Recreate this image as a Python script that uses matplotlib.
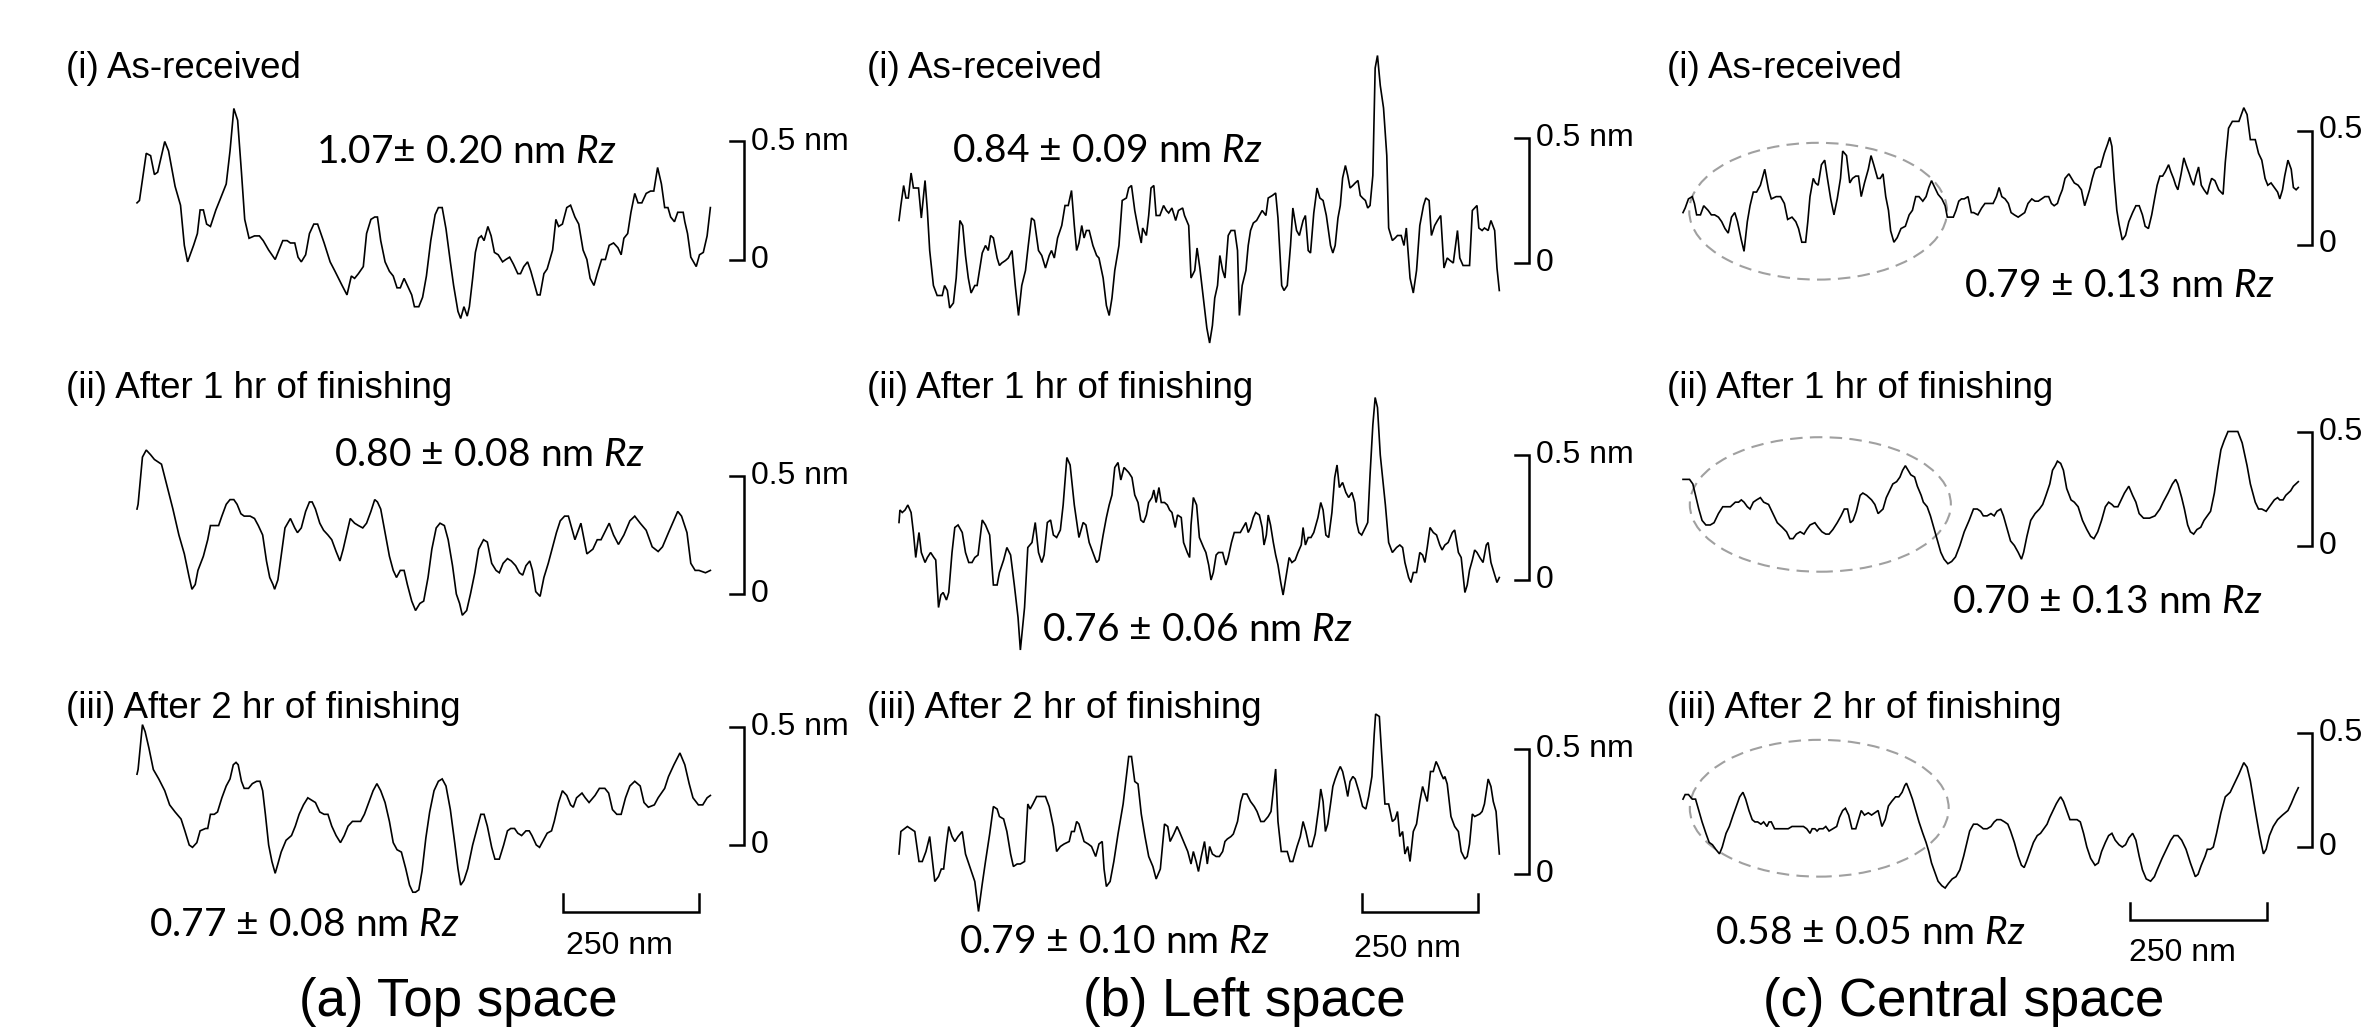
import matplotlib
matplotlib.use("Agg")
import matplotlib.pyplot as plt
from matplotlib.patches import Ellipse

# ---------------- data: AFM line profiles (position nm, height nm) ----------------
top_i_x = [0, 4.5, 17, 25, 32, 38, 51, 58, 70, 80,
           87, 93, 104, 111, 116, 122, 128, 135, 145, 152,
           164, 171, 178, 185, 192, 198, 206, 216, 225, 232,
           242, 254, 261, 268, 276, 282, 290, 296, 302, 310,
           317, 325, 332, 344, 355, 364, 377, 386, 394, 400,
           407, 416, 422, 430, 437, 442, 448, 456, 464, 471,
           478, 484, 491, 497, 505, 510, 518, 525, 532, 540,
           548, 554, 561, 568, 576, 582, 590, 595, 601, 607,
           611, 617, 622, 628, 633, 638, 645, 651, 657, 664,
           672, 678, 685, 692, 700, 705, 711, 718, 724, 730,
           736, 741, 748, 754, 764, 770, 775, 782, 790, 797,
           805, 812, 820, 827, 833, 840, 846, 854, 861, 868,
           876, 884, 890, 895, 902, 908, 915, 921, 928, 936,
           944, 950, 957, 964, 970, 976, 981, 988, 994, 1004,
           1007, 1012, 1018, 1028, 1034, 1041, 1048, 1054]
top_i_h = [.24, .25, .45, .44, .36, .37, .50, .46, .31, .23,
           .06, -.01, .06, .11, .21, .21, .15, .14, .21, .25,
           .32, .46, .64, .59, .37, .17, .09, .10, .10, .08,
           .04, 0, .04, .08, .08, .07, .07, .01, -.01, .02,
           .11, .15, .15, .07, -.01, -.05, -.11, -.15, -.07, -.08,
           -.06, -.03, .11, .17, .18, .18, .08, -.01, -.05, -.07,
           -.12, -.12, -.08, -.11, -.15, -.20, -.20, -.16, -.07, .08,
           .19, .22, .22, .13, -.01, -.11, -.22, -.25, -.20, -.24,
           -.20, -.08, .03, .09, .10, .08, .14, .10, .03, .02,
           -.01, 0, .01, -.02, -.06, -.06, -.03, -.01, -.05, -.10,
           -.15, -.15, -.06, -.04, .04, .17, .14, .15, .22, .23,
           .18, .15, .04, 0, -.08, -.11, -.06, 0, 0, .06,
           .07, .05, .02, .09, .11, .20, .28, .24, .24, .28,
           .29, .29, .39, .32, .22, .22, .18, .16, .20, .20,
           .16, .11, .01, -.03, .02, .03, .10, .22]

top_ii_x = [0, 2, 10, 17, 25, 32, 45, 55, 66, 77,
            87, 96, 101, 107, 112, 122, 130, 135, 141, 150,
            156, 164, 171, 178, 184, 191, 197, 208, 216, 223,
            231, 238, 244, 250, 253, 259, 265, 272, 282, 290,
            295, 302, 310, 317, 322, 328, 336, 343, 351, 358,
            366, 373, 379, 385, 392, 400, 407, 415, 422, 430,
            437, 442, 448, 456, 464, 471, 477, 484, 491, 497,
            505, 512, 520, 527, 535, 542, 550, 557, 565, 572,
            580, 587, 593, 598, 606, 613, 621, 628, 637, 644,
            652, 660, 666, 673, 681, 688, 696, 703, 709, 715,
            722, 727, 733, 741, 748, 756, 763, 771, 778, 786,
            793, 805, 816, 827, 838, 846, 853, 868, 876, 885,
            895, 906, 915, 925, 936, 947, 958, 966, 977, 994,
            1001, 1011, 1018, 1026, 1033, 1045, 1054]
top_ii_h = [.36, .38, .58, .61, .59, .57, .55, .46, .36, .25,
            .17, .07, .02, .04, .10, .16, .23, .29, .29, .29,
            .33, .38, .40, .40, .38, .34, .33, .33, .32, .29,
            .25, .14, .07, .04, .02, .06, .16, .28, .32, .28,
            .26, .28, .35, .39, .39, .36, .30, .27, .25, .23,
            .18, .14, .19, .25, .32, .30, .29, .28, .30, .35,
            .40, .39, .36, .26, .16, .10, .07, .10, .10, .04,
            -.03, -.07, -.04, -.03, .07, .19, .28, .30, .29, .23,
            .12, 0, -.04, -.09, -.07, 0, .09, .19, .23, .22,
            .13, .10, .09, .13, .15, .14, .12, .09, .08, .12,
            .14, .10, .01, -.01, .07, .13, .19, .26, .31, .33,
            .33, .23, .30, .17, .19, .23, .23, .30, .25, .21,
            .25, .31, .33, .30, .27, .20, .18, .20, .26, .35,
            .33, .26, .13, .10, .10, .09, .10]

top_iii_x = [0, 2, 10, 15, 22, 30, 40, 51, 60, 70,
             81, 88, 96, 102, 110, 116, 126, 130, 135, 142,
             148, 156, 164, 171, 177, 182, 186, 192, 197, 205,
             212, 220, 226, 231, 236, 242, 248, 254, 259, 265,
             274, 284, 291, 298, 306, 314, 321, 328, 336, 344,
             351, 358, 366, 374, 381, 388, 396, 404, 411, 418,
             426, 434, 441, 448, 456, 464, 471, 478, 486, 494,
             501, 507, 512, 518, 524, 531, 538, 546, 554, 561,
             568, 576, 584, 590, 595, 601, 608, 617, 625, 632,
             638, 644, 652, 658, 666, 674, 681, 687, 694, 700,
             707, 715, 721, 726, 734, 740, 747, 754, 762, 767,
             775, 782, 790, 797, 802, 808, 818, 824, 831, 842,
             850, 860, 867, 874, 882, 890, 898, 906, 915, 925,
             932, 940, 951, 958, 970, 977, 987, 998, 1007, 1015,
             1022, 1032, 1040, 1048, 1054]
top_iii_h = [.30, .32, .51, .48, .41, .32, .28, .23, .17, .14,
             .11, .06, 0, -.01, .01, .06, .07, .07, .13, .13,
             .14, .20, .25, .28, .34, .35, .34, .27, .24, .24,
             .26, .27, .27, .23, .13, 0, -.07, -.12, -.08, -.03,
             .02, .04, .08, .13, .17, .20, .19, .18, .14, .13,
             .13, .08, .04, .01, .04, .08, .10, .10, .10, .13,
             .18, .23, .26, .23, .18, .10, .01, -.02, -.03, -.10,
             -.17, -.20, -.20, -.19, -.11, .03, .14, .23, .27, .28,
             .25, .15, .01, -.10, -.17, -.15, -.10, 0, .07, .13,
             .13, .08, -.01, -.06, -.06, 0, .06, .07, .07, .05,
             .04, .06, .06, .04, 0, -.01, .02, .05, .06, .10,
             .18, .23, .21, .17, .16, .20, .22, .20, .18, .21,
             .24, .24, .22, .15, .13, .13, .20, .25, .27, .25,
             .18, .16, .17, .20, .24, .29, .34, .39, .34, .26,
             .20, .17, .17, .20, .21]

left_i_x = [0, 4, 10, 15, 20, 26, 31, 36, 42, 48,
            56, 61, 66, 74, 82, 88, 93, 98, 104, 109,
            117, 123, 131, 137, 143, 149, 155, 163, 168, 179,
            186, 192, 197, 203, 211, 216, 221, 229, 235, 243,
            250, 257, 264, 272, 278, 285, 291, 300, 307, 315,
            323, 328, 334, 341, 350, 357, 364, 371, 377, 382,
            387, 393, 398, 403, 409, 417, 425, 430, 439, 446,
            452, 458, 464, 473, 480, 489, 494, 500, 507, 515,
            521, 524, 532, 537, 542, 548, 553, 561, 569, 575,
            580, 587, 595, 601, 610, 614, 623, 628, 636, 641,
            647, 655, 662, 668, 674, 679, 685, 690, 696, 701,
            708, 714, 722, 728, 732, 738, 746, 751, 756, 762,
            769, 775, 781, 789, 794, 803, 810, 815, 823, 828,
            835, 842, 847, 855, 861, 869, 874, 880, 885, 892,
            899, 905, 912, 919, 928, 933, 938, 944, 949, 954,
            960, 965, 970, 976, 981, 987, 992, 997, 1003, 1008,
            1013, 1019, 1024, 1029, 1035, 1042, 1049, 1053, 1061, 1067,
            1072, 1080, 1086, 1091, 1099, 1106, 1113, 1120, 1128, 1133,
            1140, 1145, 1152, 1158, 1165, 1172, 1179, 1185, 1192, 1201,
            1206, 1213, 1222, 1227, 1233, 1238, 1243, 1247, 1254, 1259,
            1267, 1273, 1281, 1286, 1291]
left_i_h = [.17, .23, .31, .26, .26, .36, .30, .30, .30, .18,
            .33, .21, .05, -.09, -.13, -.13, -.13, -.09, -.11, -.18,
            -.16, -.06, .17, .15, .03, -.06, -.12, -.09, -.09, .04,
            .07, .05, .11, .10, .02, -.01, 0, .01, .02, .05,
            -.09, -.21, -.09, -.03, .07, .18, .17, .05, .03, -.02,
            .03, .05, .02, .10, .15, .23, .23, .29, .15, .05,
            .08, .15, .10, .13, .13, .07, .03, .02, -.06, -.17,
            -.21, -.14, -.03, .07, .25, .26, .30, .31, .21, .13,
            .08, .14, .11, .19, .30, .31, .19, .19, .23, .21,
            .20, .22, .17, .21, .22, .19, .15, -.06, -.03, .06,
            -.02, -.15, -.26, -.32, -.25, -.14, -.09, .03, -.03, -.06,
            .11, .13, .13, .05, -.21, -.09, -.03, .07, .13, .16,
            .17, .19, .21, .19, .26, .27, .28, .18, -.09, -.11,
            -.09, .07, .22, .13, .11, .17, .19, .05, .04, .20,
            .30, .26, .25, .19, .07, .04, .07, .18, .23, .34,
            .39, .35, .30, .31, .32, .33, .27, .26, .25, .22,
            .23, .35, .78, .83, .71, .62, .43, .14, .09, .10,
            .11, .11, .07, .14, -.06, -.12, -.03, .15, .23, .26,
            .25, .11, .15, .17, .19, -.02, .02, .01, 0, .13,
            .02, -.01, -.01, -.01, .21, .22, .23, .14, .13, .14,
            .13, .17, .13, -.02, -.11]

left_ii_x = [0, 2, 7, 13, 19, 26, 31, 36, 43, 48,
             56, 61, 68, 75, 79, 85, 90, 95, 102, 107,
             114, 120, 127, 136, 143, 150, 157, 163, 170, 179,
             186, 195, 203, 211, 216, 225, 232, 240, 248, 256,
             261, 270, 277, 286, 293, 300, 307, 312, 319, 326,
             332, 339, 347, 353, 361, 368, 377, 387, 396, 402,
             409, 417, 425, 430, 439, 446, 452, 458, 464, 471,
             477, 484, 494, 501, 507, 514, 520, 526, 532, 537,
             544, 548, 553, 559, 564, 571, 577, 582, 587, 594,
             599, 607, 612, 620, 625, 628, 633, 640, 646, 655,
             660, 666, 671, 676, 682, 687, 696, 703, 708, 715,
             721, 728, 734, 740, 746, 751, 756, 762, 767, 775,
             781, 785, 790, 794, 799, 805, 810, 815, 821, 826,
             832, 839, 845, 852, 858, 865, 869, 874, 880, 886,
             892, 901, 907, 912, 918, 924, 931, 937, 942, 947,
             954, 961, 967, 974, 980, 984, 989, 995, 1003, 1008,
             1013, 1019, 1024, 1029, 1035, 1040, 1046, 1053, 1061, 1070,
             1077, 1083, 1088, 1096, 1101, 1106, 1113, 1120, 1126, 1131,
             1136, 1142, 1149, 1156, 1163, 1168, 1174, 1181, 1190, 1195,
             1203, 1209, 1217, 1222, 1227, 1233, 1238, 1243, 1249, 1256,
             1263, 1267, 1273, 1281, 1286, 1291]
left_ii_h = [.23, .28, .27, .28, .30, .27, .19, .09, .19, .11,
             .07, .09, .11, .09, .08, -.11, -.06, -.05, -.08, -.05,
             .11, .21, .22, .19, .11, .07, .07, .09, .10, .24,
             .22, .18, -.02, -.02, .03, .08, .13, .10, -.02, -.15,
             -.28, -.11, .13, .15, .23, .11, .07, .10, .23, .24,
             .18, .17, .20, .30, .49, .46, .30, .17, .23, .22,
             .15, .11, .07, .08, .18, .25, .30, .34, .45, .47,
             .40, .45, .43, .41, .34, .31, .24, .23, .26, .31,
             .33, .36, .31, .37, .31, .31, .30, .28, .27, .21,
             .26, .25, .15, .11, .09, .22, .33, .30, .17, .13,
             .11, .06, 0, .03, .10, .11, .11, .06, .09, .15,
             .19, .19, .19, .21, .23, .19, .21, .25, .27, .26,
             .21, .14, .18, .26, .22, .15, .10, .06, -.01, -.06,
             .01, .09, .07, .08, .11, .14, .21, .14, .17, .17,
             .19, .25, .31, .28, .18, .17, .27, .41, .46, .37,
             .39, .35, .33, .35, .31, .23, .19, .18, .21, .23,
             .42, .62, .73, .69, .50, .41, .30, .15, .11, .13,
             .14, .13, .07, .01, -.01, .03, .03, .11, .10, .07,
             .13, .21, .19, .18, .14, .12, .14, .15, .19, .20,
             .11, .09, -.05, -.02, .04, .08, .12, .11, .09, .07,
             .14, .15, .07, .02, -.01, .01]

left_iii_x = [0, 4, 11, 18, 26, 34, 43, 50, 58, 66,
              72, 77, 85, 91, 96, 102, 107, 114, 120, 127,
              136, 143, 152, 163, 171, 179, 186, 195, 203, 211,
              216, 225, 232, 240, 246, 254, 261, 270, 277, 282,
              288, 296, 300, 307, 315, 323, 332, 339, 347, 355,
              366, 371, 377, 382, 387, 398, 407, 414, 423, 430,
              437, 441, 446, 454, 462, 471, 482, 489, 494, 500,
              507, 514, 521, 529, 537, 546, 553, 562, 571, 578,
              583, 591, 598, 603, 612, 621, 628, 633, 639, 644,
              650, 657, 663, 668, 674, 682, 689, 696, 701, 706,
              714, 719, 728, 735, 740, 748, 756, 764, 770, 778,
              785, 794, 800, 807, 810, 815, 822, 828, 835, 841,
              847, 856, 863, 869, 875, 882, 888, 895, 903, 907,
              912, 917, 922, 928, 933, 938, 944, 949, 954, 960,
              965, 970, 976, 981, 989, 997, 1004, 1010, 1017, 1022,
              1025, 1033, 1038, 1045, 1053, 1061, 1067, 1072, 1077, 1083,
              1088, 1094, 1099, 1106, 1113, 1120, 1126, 1131, 1136, 1143,
              1149, 1155, 1160, 1166, 1171, 1174, 1179, 1187, 1195, 1203,
              1209, 1217, 1222, 1227, 1233, 1238, 1249, 1254, 1259, 1267,
              1273, 1278, 1284, 1291]
left_iii_h = [.08, .17, .18, .19, .18, .17, .05, .05, .09, .15,
              .05, -.03, -.01, .02, .02, .12, .19, .15, .13, .15,
              .17, .08, .03, -.03, -.15, -.04, .05, .16, .27, .26,
              .23, .22, .17, .08, .03, .04, .04, .05, .28, .26,
              .28, .31, .31, .31, .31, .27, .19, .09, .11, .12,
              .13, .17, .17, .21, .20, .13, .12, .11, .07, .12,
              .13, .02, -.05, -.03, .05, .16, .28, .39, .47, .47,
              .37, .36, .24, .15, .07, .03, -.02, .02, .20, .19,
              .13, .16, .19, .17, .13, .09, .04, .09, .05, .01,
              .07, .13, .04, .11, .08, .07, .07, .09, .13, .14,
              .15, .16, .21, .29, .32, .32, .29, .27, .25, .21,
              .21, .23, .25, .37, .42, .21, .09, .09, .09, .05,
              .05, .11, .15, .21, .17, .11, .11, .16, .27, .34,
              .29, .17, .20, .28, .35, .38, .41, .43, .41, .36,
              .31, .37, .39, .38, .33, .27, .26, .31, .39, .56,
              .64, .63, .48, .28, .28, .21, .22, .25, .15, .17,
              .08, .11, .05, .17, .20, .29, .35, .32, .29, .41,
              .41, .45, .43, .40, .38, .39, .36, .23, .19, .17,
              .09, .06, .07, .12, .24, .23, .24, .25, .28, .38,
              .35, .29, .25, .08]

central_i_x = [0, 4, 10, 17, 21, 25, 32, 38, 46, 52,
               58, 65, 71, 77, 83, 89, 95, 100, 107, 112,
               118, 123, 129, 135, 142, 150, 157, 162, 171, 179,
               186, 192, 200, 207, 212, 218, 225, 229, 233, 239,
               243, 248, 254, 260, 265, 271, 277, 283, 289, 293,
               300, 306, 311, 317, 322, 327, 333, 340, 345, 350,
               357, 362, 367, 372, 377, 381, 387, 393, 400, 408,
               415, 421, 427, 433, 440, 446, 451, 456, 462, 468,
               475, 481, 485, 489, 496, 501, 506, 511, 516, 523,
               529, 533, 541, 548, 554, 562, 569, 575, 580, 585,
               591, 597, 602, 608, 615, 621, 627, 633, 640, 646,
               652, 658, 664, 671, 676, 681, 687, 691, 696, 701,
               708, 713, 718, 725, 731, 737, 741, 746, 751, 756,
               762, 766, 773, 779, 783, 787, 791, 796, 800, 806,
               812, 818, 825, 831, 837, 843, 848, 854, 860, 866,
               870, 875, 880, 885, 891, 895, 900, 904, 908, 914,
               919, 923, 929, 933, 937, 941, 946, 951, 956, 962,
               966, 970, 976, 983, 987, 991, 995, 1001, 1008, 1014,
               1020, 1029, 1035, 1041, 1050, 1056, 1062, 1068, 1073, 1079,
               1085, 1091, 1095, 1100, 1104, 1110, 1116, 1120, 1125, 1129]
central_i_h = [.14, .16, .20, .21, .18, .13, .13, .17, .15, .13,
               .13, .12, .10, .07, .05, .12, .14, .10, .02, -.03,
               .10, .17, .23, .23, .26, .33, .24, .20, .21, .21,
               .18, .11, .12, .10, .07, .01, .01, .10, .21, .29,
               .27, .26, .35, .37, .29, .20, .13, .20, .29, .41,
               .39, .27, .29, .30, .30, .21, .27, .33, .39, .35,
               .29, .29, .31, .21, .15, .06, .01, .03, .07, .08,
               .13, .15, .21, .21, .19, .21, .25, .28, .25, .22,
               .20, .17, .12, .12, .12, .15, .19, .20, .20, .21,
               .14, .14, .13, .16, .18, .18, .18, .21, .25, .21,
               .20, .18, .14, .13, .12, .13, .14, .18, .20, .19,
               .19, .20, .21, .21, .18, .17, .18, .21, .24, .29,
               .31, .29, .27, .26, .24, .17, .20, .24, .29, .33,
               .34, .34, .40, .44, .47, .43, .29, .15, .09, .02,
               .04, .10, .14, .17, .17, .13, .08, .07, .13, .21,
               .26, .30, .30, .32, .35, .32, .29, .26, .24, .31,
               .38, .35, .31, .28, .26, .30, .34, .26, .24, .22,
               .26, .29, .28, .24, .23, .22, .36, .51, .54, .54,
               .54, .60, .57, .46, .46, .40, .37, .29, .26, .27,
               .25, .23, .20, .24, .30, .37, .33, .25, .24, .25]

central_ii_x = [0, 7, 12, 18, 23, 29, 35, 42, 50, 57,
                65, 73, 79, 87, 96, 102, 107, 112, 118, 123,
                129, 135, 142, 148, 157, 165, 173, 182, 190, 196,
                202, 208, 215, 222, 227, 233, 242, 248, 255, 262,
                268, 275, 283, 290, 296, 302, 307, 312, 318, 325,
                330, 337, 346, 352, 358, 367, 373, 379, 385, 392,
                398, 403, 408, 413, 418, 425, 430, 437, 441, 448,
                454, 460, 466, 473, 479, 486, 493, 500, 508, 516,
                525, 533, 540, 546, 551, 558, 565, 571, 576, 583,
                588, 595, 601, 608, 615, 621, 625, 631, 638, 646,
                654, 660, 666, 673, 678, 683, 687, 693, 698, 704,
                712, 718, 725, 733, 741, 748, 754, 761, 768, 775,
                781, 787, 791, 798, 804, 810, 818, 825, 831, 837,
                845, 856, 866, 875, 881, 890, 898, 904, 908, 915,
                920, 926, 931, 937, 943, 950, 956, 962, 968, 975,
                981, 987, 993, 1000, 1006, 1012, 1018, 1026, 1035, 1041,
                1050, 1056, 1062, 1070, 1079, 1085, 1091, 1095, 1101, 1106,
                1115, 1120, 1129]
central_ii_h = [.29, .29, .29, .27, .22, .16, .11, .09, .09, .10,
                .14, .17, .17, .17, .19, .19, .20, .19, .17, .16,
                .19, .20, .21, .19, .18, .14, .10, .08, .06, .03,
                .03, .05, .06, .05, .07, .09, .10, .08, .06, .05,
                .05, .07, .10, .13, .16, .16, .10, .11, .15, .22,
                .23, .22, .20, .18, .14, .16, .21, .24, .27, .28,
                .30, .33, .35, .33, .31, .30, .26, .22, .19, .17,
                .13, .08, .03, -.03, -.06, -.08, -.07, -.05, 0, .06,
                .11, .16, .16, .15, .13, .13, .14, .13, .15, .16,
                .13, .07, .02, 0, -.03, -.06, -.03, .04, .11, .14,
                .16, .18, .22, .27, .33, .35, .37, .36, .33, .25,
                .20, .19, .17, .11, .07, .04, .03, .06, .11, .17,
                .19, .18, .17, .17, .20, .23, .26, .22, .19, .14,
                .12, .12, .13, .16, .19, .23, .27, .29, .27, .21,
                .16, .09, .06, .05, .07, .08, .11, .13, .15, .23,
                .33, .42, .46, .50, .50, .50, .50, .45, .35, .27,
                .19, .16, .16, .15, .18, .20, .21, .20, .20, .22,
                .24, .26, .28]

central_iii_x = [0, 4, 10, 17, 23, 29, 35, 42, 48, 54,
                 60, 67, 72, 79, 85, 92, 98, 104, 110, 115,
                 121, 127, 132, 137, 143, 148, 154, 158, 162, 168,
                 175, 182, 187, 193, 200, 208, 215, 221, 227, 233,
                 237, 242, 246, 250, 257, 262, 268, 275, 282, 287,
                 293, 298, 304, 310, 317, 322, 327, 333, 340, 346,
                 352, 358, 365, 371, 377, 383, 390, 396, 402, 407,
                 410, 415, 421, 427, 433, 440, 446, 451, 456, 462,
                 468, 475, 481, 487, 494, 501, 508, 515, 521, 526,
                 533, 540, 546, 551, 558, 565, 571, 576, 583, 590,
                 596, 601, 608, 615, 621, 626, 631, 637, 643, 650,
                 656, 662, 668, 673, 679, 685, 690, 693, 698, 704,
                 710, 716, 723, 729, 735, 741, 748, 756, 762, 768,
                 775, 781, 787, 793, 800, 806, 812, 818, 825, 831,
                 837, 843, 850, 858, 865, 870, 879, 887, 895, 901,
                 908, 915, 923, 931, 940, 945, 951, 958, 962, 968,
                 973, 979, 987, 995, 1004, 1012, 1020, 1029, 1035, 1041,
                 1050, 1058, 1065, 1070, 1076, 1083, 1091, 1100, 1110, 1116,
                 1123, 1129]
central_iii_h = [.21, .23, .23, .21, .21, .16, .11, .06, .02, .01,
                 -.01, -.03, 0, .06, .09, .14, .18, .22, .24, .21,
                 .16, .12, .11, .11, .10, .11, .09, .11, .11, .08,
                 .08, .08, .08, .08, .09, .09, .09, .09, .08, .06,
                 .08, .08, .07, .08, .08, .09, .07, .08, .09, .13,
                 .16, .17, .14, .08, .08, .12, .16, .14, .15, .14,
                 .15, .16, .09, .12, .18, .20, .22, .22, .24, .27,
                 .28, .25, .21, .16, .11, .06, .02, -.02, -.07, -.11,
                 -.15, -.17, -.18, -.16, -.14, -.13, -.10, -.04, .02, .07,
                 .10, .10, .09, .08, .08, .09, .11, .12, .12, .11,
                 .10, .07, .02, -.04, -.08, -.09, -.06, -.02, .02, .05,
                 .06, .08, .10, .13, .16, .19, .21, .22, .20, .16,
                 .12, .12, .12, .11, .06, 0, -.05, -.08, -.07, -.02,
                 .02, .05, .06, .03, .01, 0, .01, .04, .06, .03,
                 -.04, -.10, -.14, -.15, -.13, -.10, -.05, -.01, .03, .05,
                 .05, .03, -.01, -.07, -.13, -.12, -.08, -.04, -.01, -.01,
                 0, .06, .15, .22, .24, .28, .32, .37, .35, .29,
                 .16, .05, -.03, -.01, .05, .09, .12, .14, .16, .19,
                 .23, .26]

row_labels = ["(i) As-received", "(ii) After 1 hr of finishing",
              "(iii) After 2 hr of finishing"]
column_titles = ["(a) Top space", "(b) Left space", "(c) Central space"]
rz_labels = [["1.07\u00b1 0.20 nm $Rz$", "0.80 \u00b1 0.08 nm $Rz$", "0.77 \u00b1 0.08 nm $Rz$"],
             ["0.84 \u00b1 0.09 nm $Rz$", "0.76 \u00b1 0.06 nm $Rz$", "0.79 \u00b1 0.10 nm $Rz$"],
             ["0.79 \u00b1 0.13 nm $Rz$", "0.70 \u00b1 0.13 nm $Rz$", "0.58 \u00b1 0.05 nm $Rz$"]]
height_bar_nm = 0.5          # vertical scale bracket
length_bar_nm = 250          # horizontal scale bar
# highlighted region in central space: (centre nm, centre height nm, width nm, height nm)
central_regions = [(248, 0.146, 473, 0.60), (252, 0.18, 479, 0.59), (250, 0.17, 475, 0.60)]

profiles = [[(top_i_x, top_i_h), (top_ii_x, top_ii_h), (top_iii_x, top_iii_h)],
            [(left_i_x, left_i_h), (left_ii_x, left_ii_h), (left_iii_x, left_iii_h)],
            [(central_i_x, central_i_h), (central_ii_x, central_ii_h), (central_iii_x, central_iii_h)]]

# ---------------- layout (figure pixels) ----------------
W, H = 2372, 1030
plt.rcParams['font.family'] = ['Liberation Sans', 'DejaVu Sans']
plt.rcParams['mathtext.fontset'] = 'custom'
plt.rcParams['mathtext.rm'] = 'Lato'
plt.rcParams['mathtext.it'] = 'Lato:italic'

cols = [
    dict(x0=137, ppx=0.544, ppy=236, y0=[259.5, 594, 845], bx=744, lab_x=66,
         bar_start=783, bar_top=894, bar_bot=912, bar_lab=(619, 946), title_x=458,
         top_text="0.5 nm", rz=[(466, 152), (489, 455), (304, 925)]),
    dict(x0=899, ppx=0.465, ppy=250, y0=[263, 580, 874], bx=1529, lab_x=867,
         bar_start=996, bar_top=894, bar_bot=912, bar_lab=(1407, 949), title_x=1244,
         top_text="0.5 nm", rz=[(1107, 151), (1197, 630), (1114, 942)]),
    dict(x0=1683, ppx=0.545, ppy=228, y0=[244.5, 545.5, 847], bx=2311.5, lab_x=1667,
         bar_start=821, bar_top=903, bar_bot=920, bar_lab=(2182, 953), title_x=1964,
         top_text="0.5", rz=[(2119, 286), (2107, 602), (1870, 933)]),
]
label_y = [68, 389, 708]
title_y = 1002

fig = plt.figure(figsize=(W / 100, H / 100), dpi=100)
fig.patch.set_facecolor('white')


def ftext(px, py, s, **kw):
    return fig.text(px / W, 1 - py / H, s, **kw)


for ci, col in enumerate(cols):
    x0, ppx, ppy = col['x0'], col['ppx'], col['ppy']
    for ri in range(3):
        xs, hs = profiles[ci][ri]
        n = min(len(xs), len(hs))
        xs, hs = xs[:n], hs[:n]
        y0 = col['y0'][ri]
        L = max(xs)
        ya, yb = -0.5, 0.9
        left_px = x0
        top_px = y0 - yb * ppy
        w_px = L * ppx
        h_px = (yb - ya) * ppy
        ax = fig.add_axes([left_px / W, 1 - (top_px + h_px) / H, w_px / W, h_px / H])
        ax.set_xlim(0, L)
        ax.set_ylim(ya, yb)
        ax.axis('off')
        ax.patch.set_visible(False)

        ax.plot(xs, hs, color='black', lw=1.2, clip_on=False, solid_joinstyle='miter')

        # vertical 0.5 nm bracket
        bx = (col['bx'] - x0) / ppx
        tick = 14 / ppx
        ax.plot([bx - tick, bx, bx, bx - tick], [height_bar_nm, height_bar_nm, 0, 0],
                color='black', lw=1.8, clip_on=False, solid_joinstyle='miter')
        ftext(col['bx'] + 7, y0 - height_bar_nm * ppy, col['top_text'],
              fontsize=23, ha='left', va='center')
        ftext(col['bx'] + 7, y0, "0", fontsize=23, ha='left', va='center')

        # highlighted region (central space)
        if ci == 2:
            cx, cy, ew, eh = central_regions[ri]
            ax.add_patch(Ellipse((cx, cy), ew, eh, fill=False, edgecolor='#a0a0a0',
                                 lw=1.5, linestyle=(0, (6, 3.5)), clip_on=False))

        # horizontal 250 nm scale bar on the last row
        if ri == 2:
            s = col['bar_start']
            ht = (y0 - col['bar_top']) / ppy
            hb = (y0 - col['bar_bot']) / ppy
            ax.plot([s, s, s + length_bar_nm, s + length_bar_nm], [ht, hb, hb, ht],
                    color='black', lw=1.8, clip_on=False, solid_joinstyle='miter')
            ftext(col['bar_lab'][0], col['bar_lab'][1], "%d nm" % length_bar_nm,
                  fontsize=23, ha='center', va='center')

        # row label
        ftext(col['lab_x'], label_y[ri], row_labels[ri], fontsize=26.5,
              ha='left', va='center')
        # roughness annotation
        rx, ry = col['rz'][ri]
        ftext(rx, ry, rz_labels[ci][ri], fontsize=28, family='Lato',
              ha='center', va='center')

    ftext(col['title_x'], title_y, column_titles[ci], fontsize=38,
          ha='center', va='center')

fig.savefig("out.png", dpi=100, facecolor='white')
